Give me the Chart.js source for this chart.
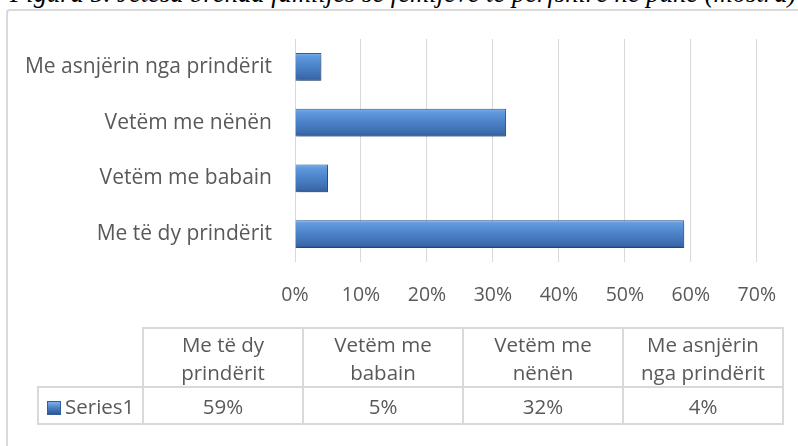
<!DOCTYPE html>
<html>
<head>
<meta charset="utf-8">
<script src="https://cdn.jsdelivr.net/npm/chart.js@4/dist/chart.umd.min.js"></script>
<style>
    body { margin: 0; background: #fff; overflow: hidden; }
    #wrap { position: relative; width: 798px; height: 446px; overflow: hidden; }
    #frame {
        position: absolute; left: 6px; top: 9px; width: 900px; height: 600px;
        border: 2px solid #d9d9d9; border-radius: 4px;
    }
    #title {
        position: absolute; left: 10px; top: -20px; white-space: nowrap;
        font-family: "Liberation Serif", serif; font-style: italic;
        font-size: 26.6px; line-height: 26.6px; color: #000;
    }
    #chart { position: absolute; left: 0; top: 0; }
    #dataTable {
        position: absolute; left: 37px; top: 327px;
        border-collapse: collapse; table-layout: fixed;
        font-family: "Open Sans", sans-serif; font-size: 20.5px; color: #595959;
    }
    #dataTable td { border: 2px solid #d9d9d9; text-align: center; padding: 0; line-height: 28px; white-space: nowrap; }
    #dataTable td.empty { border-top: none; border-left: none; }
    #dataTable td.key { text-align: left; padding-left: 8px; font-size: 20.5px; }
    .swatch {
        display: inline-block; width: 14px; height: 14px; margin-right: 4px; vertical-align: -1px;
        background: linear-gradient(#7eb0ee, #4a7fc4 50%, #2e5790);
        border: 1px solid #2f5f9a; box-sizing: border-box;
    }
</style>
</head>
<body>
<div id="wrap">
    <div id="frame"></div>
    <div id="title">Figura 5. Jetesa brenda familjes së fëmijëve të përfshirë në punë (mostra)</div>
    <canvas id="chart" width="798" height="446"></canvas>
    <table id="dataTable"></table>
</div>
<script>
// Datos del gráfico
const categories = ['Me të dy prindërit', 'Vetëm me babain', 'Vetëm me nënën', 'Me asnjërin nga prindërit'];
const headerLines = [['Me të dy', 'prindërit'], ['Vetëm me', 'babain'], ['Vetëm me', 'nënën'], ['Me asnjërin', 'nga prindërit']];
const seriesName = 'Series1';
const series1 = [59, 5, 32, 4];
const xMax = 70;
const xStep = 10;

const textColor = '#595959';
const gridColor = '#d9d9d9';

// Degradado vertical para cada barra
function barGradient(context) {
    const chart = context.chart;
    const yScale = chart.scales.y;
    if (!chart.chartArea || !yScale) return '#4a7fc4';
    const center = yScale.getPixelForValue(context.dataIndex);
    const half = (yScale.height / categories.length) * 0.25;
    const g = chart.ctx.createLinearGradient(0, center - half, 0, center + half);
    g.addColorStop(0, '#82b4f0');
    g.addColorStop(0.12, '#619ae0');
    g.addColorStop(0.5, '#4b81c6');
    g.addColorStop(0.88, '#3b6aac');
    g.addColorStop(1, '#2e5790');
    return g;
}

// Sombra bajo las barras
const shadowPlugin = {
    id: 'barShadow',
    beforeDatasetsDraw(chart) {
        const ctx = chart.ctx;
        ctx.save();
        ctx.shadowColor = 'rgba(0,0,0,0.35)';
        ctx.shadowBlur = 4;
        ctx.shadowOffsetX = 1;
        ctx.shadowOffsetY = 2;
    },
    afterDatasetsDraw(chart) {
        chart.ctx.restore();
    }
};

new Chart(document.getElementById('chart').getContext('2d'), {
    type: 'bar',
    data: {
        labels: categories,
        datasets: [{
            label: seriesName,
            data: series1,
            backgroundColor: barGradient,
            borderColor: '#2f5f9a',
            borderWidth: 1,
            categoryPercentage: 1,
            barPercentage: 0.5
        }]
    },
    options: {
        indexAxis: 'y',
        responsive: false,
        animation: false,
        layout: { padding: { left: 0, top: 39, right: 38, bottom: 134 } },
        plugins: { legend: { display: false }, tooltip: { enabled: false } },
        scales: {
            x: {
                min: 0,
                max: xMax,
                ticks: {
                    stepSize: xStep,
                    padding: 22,
                    color: textColor,
                    font: { family: 'Open Sans', size: 19.5 },
                    callback: v => v + '%'
                },
                grid: { color: gridColor, lineWidth: 1, drawTicks: false },
                border: { display: false },
                afterFit: scale => { scale.height = 50; }
            },
            y: {
                reverse: true,
                ticks: { padding: 23, color: textColor, font: { family: 'Open Sans', size: 21 } },
                grid: { display: false, drawTicks: false },
                border: { display: false },
                afterFit: scale => { scale.width = 295; }
            }
        }
    },
    plugins: [shadowPlugin]
});

// Tabla de datos bajo el gráfico
const table = document.getElementById('dataTable');
let html = '<colgroup><col style="width:105px">' +
    headerLines.map(() => '<col style="width:160px">').join('') + '</colgroup>';
html += '<tr style="height:59px"><td class="empty"></td>' +
    headerLines.map(l => '<td>' + l.join('<br>') + '</td>').join('') + '</tr>';
html += '<tr style="height:37px"><td class="key"><span class="swatch"></span>' + seriesName + '</td>' +
    series1.map(v => '<td>' + v + '%</td>').join('') + '</tr>';
table.innerHTML = html;
</script>
</body>
</html>
